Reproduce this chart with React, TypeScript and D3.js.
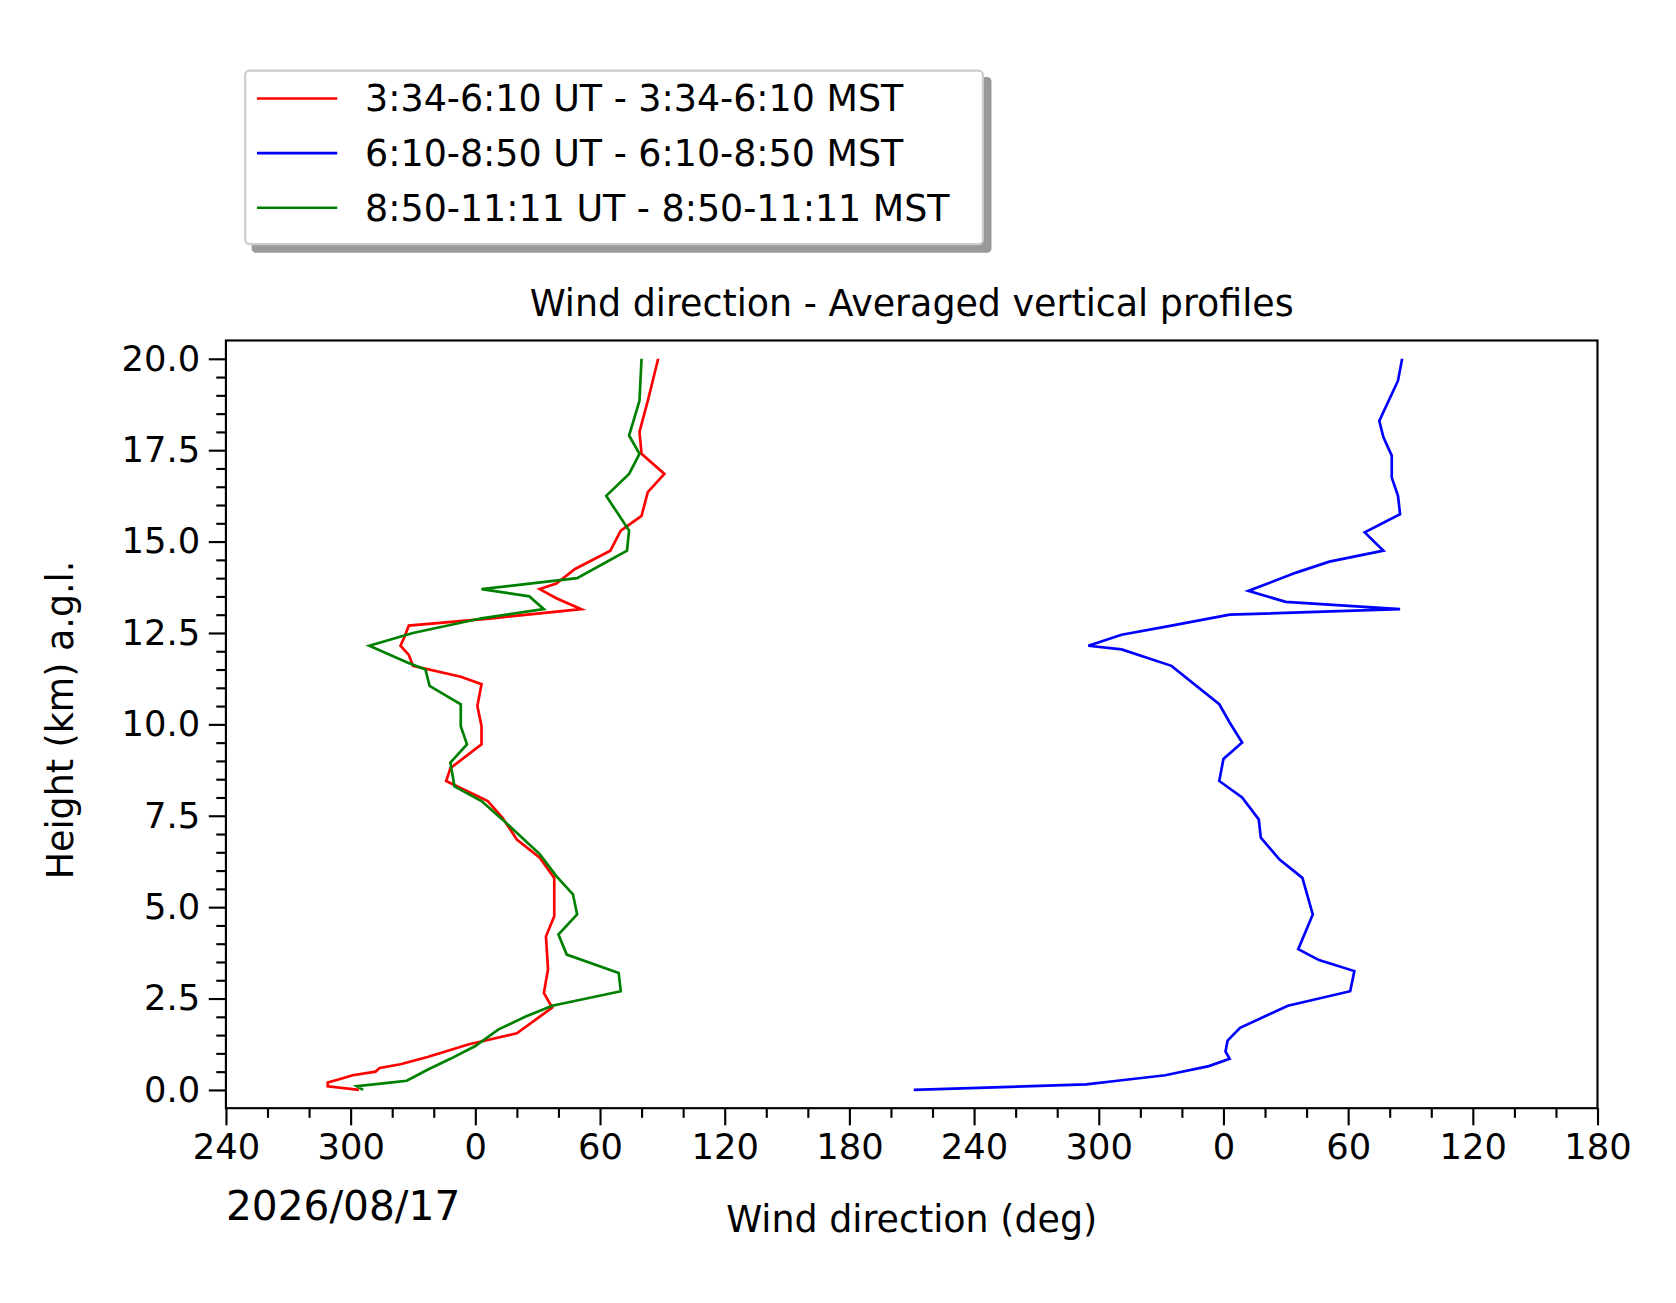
import React, { useRef, useEffect } from 'react';
import * as d3 from 'd3';

// Heights (km) and directions (deg, unwrapped onto a 240..900 axis)
const redH = [0, 0.1, 0.2, 0.3, 0.4, 0.5, 0.6, 0.7, 0.9, 1.25, 1.55, 2.25, 2.65, 3.3, 4.2, 4.75, 5.8, 6.35, 6.85, 7.45, 7.9, 8.45, 8.8, 9.45, 9.95, 10.5, 11.1, 11.3, 11.6, 11.9, 12.15, 12.4, 12.7, 12.9, 13.15, 13.45, 13.7, 13.85, 14.25, 14.75, 15.3, 15.7, 16.35, 16.85, 17.4, 18.0, 18.85, 20.0];
const redD = [304, 289, 289, 295, 301, 312, 314, 324, 337, 357, 380, 397, 393, 395, 394, 398, 398, 391, 380, 373, 366, 346, 348, 363, 363, 361, 363, 353, 330, 328, 324, 326, 328, 368, 411, 399, 391, 399, 408, 425, 430, 440, 443, 451, 440, 439, 443, 448];

const greenH = [0, 0.1, 0.2, 0.25, 0.4, 0.55, 0.85, 1.2, 1.65, 2.0, 2.3, 2.7, 3.2, 3.7, 4.25, 4.8, 5.35, 5.85, 6.45, 7.4, 7.9, 8.3, 8.95, 9.45, 9.95, 10.55, 11.05, 11.5, 11.7, 12.15, 12.5, 12.9, 13.15, 13.5, 13.7, 14.0, 14.75, 15.3, 16.25, 16.85, 17.4, 17.9, 18.85, 20.0];
const greenD = [306, 303, 319, 327, 332, 337, 348, 360, 371, 384, 397, 430, 429, 404, 400, 409, 407, 399, 391, 373, 363, 350, 348, 356, 353, 353, 338, 336, 327, 309, 330, 363, 393, 386, 363, 409, 433, 434, 423, 434, 439, 434, 439, 440];

const blueH = [0, 0.15, 0.25, 0.4, 0.65, 0.85, 1.05, 1.35, 1.7, 2.3, 2.7, 3.25, 3.55, 3.85, 4.8, 5.8, 6.3, 6.9, 7.4, 8.0, 8.45, 9.05, 9.5, 10.05, 10.55, 11.6, 12.05, 12.15, 12.45, 12.7, 13.0, 13.15, 13.35, 13.65, 14.15, 14.45, 14.75, 15.25, 15.75, 16.25, 16.75, 17.35, 17.85, 18.3, 19.4, 20.0];
const blueD = [571, 654, 669, 692, 713, 723, 721, 722, 728, 751, 781, 783, 766, 756, 763, 758, 747, 738, 737, 729, 718, 720, 729, 723, 718, 695, 671, 655, 671, 695, 723, 805, 750, 732, 755, 771, 797, 788, 805, 804, 801, 801, 797, 795, 804, 806];

const seriesNames = ['3:34-6:10 UT - 3:34-6:10 MST', '6:10-8:50 UT - 6:10-8:50 MST', '8:50-11:11 UT - 8:50-11:11 MST'];
const seriesColors = ['#ff0000', '#0000ff', '#008000'];
const xTicks = [240, 300, 360, 420, 480, 540, 600, 660, 720, 780, 840, 900];
const yTicks = [0, 2.5, 5, 7.5, 10, 12.5, 15, 17.5, 20];

export default function App() {
  const ref = useRef<SVGSVGElement | null>(null);

  useEffect(() => {
    const root = d3.select(ref.current);
    root.selectAll('*').remove();
    root.append('rect').attr('width', 1676).attr('height', 1303).attr('fill', '#fff');
    const svg = root.append('g').attr('transform', 'scale(1.0707)');
    const font = 'DejaVu Sans, sans-serif';
    const L = 211, R = 1492, T = 318, B = 1035;
    const x = d3.scaleLinear().domain([240, 900]).range([L, R]);
    const y = d3.scaleLinear().domain([-0.5, 20.5]).range([B, T]);

    // axes
    const xAx = svg.append('g').attr('transform', `translate(0,${B})`)
      .call(d3.axisBottom(x).tickValues(xTicks).tickSize(16).tickPadding(8)
        .tickFormat(d => String(((+d % 360) + 360) % 360)));
    svg.append('g').attr('transform', `translate(0,${B})`)
      .call(d3.axisBottom(x).tickValues(d3.range(240, 901, 20).filter(v => (v - 240) % 60 !== 0)).tickSize(9).tickFormat(() => ''));
    const yAx = svg.append('g').attr('transform', `translate(${L},0)`)
      .call(d3.axisLeft(y).tickValues(yTicks).tickSize(16).tickPadding(8).tickFormat(d3.format('.1f')));
    svg.append('g').attr('transform', `translate(${L},0)`)
      .call(d3.axisLeft(y).tickValues(d3.range(0, 20.01, 0.5).filter(v => v % 2.5 !== 0)).tickSize(9).tickFormat(() => ''));
    svg.selectAll('.domain').remove();
    svg.selectAll('.tick line').attr('stroke', '#000').attr('stroke-width', 2);
    [xAx, yAx].forEach(a => a.selectAll('text').attr('font-family', font).attr('font-size', 33).attr('fill', '#000'));

    svg.append('rect').attr('x', L).attr('y', T).attr('width', R - L).attr('height', B - T)
      .attr('fill', 'none').attr('stroke', '#000').attr('stroke-width', 2);

    const line = d3.line<[number, number]>().x(d => x(d[0])).y(d => y(d[1]));
    const data = [
      d3.zip(redD, redH) as [number, number][],
      d3.zip(blueD, blueH) as [number, number][],
      d3.zip(greenD, greenH) as [number, number][],
    ];
    data.forEach((pts, i) => {
      svg.append('path').attr('d', line(pts)).attr('fill', 'none')
        .attr('stroke', seriesColors[i]).attr('stroke-width', 2.5);
    });

    // labels
    svg.append('text').attr('x', (L + R) / 2).attr('y', 295).attr('text-anchor', 'middle')
      .attr('font-family', font).attr('font-size', 34).text('Wind direction - Averaged vertical profiles');
    svg.append('text').attr('x', (L + R) / 2).attr('y', 1151).attr('text-anchor', 'middle')
      .attr('font-family', font).attr('font-size', 34).text('Wind direction (deg)');
    svg.append('text').attr('transform', `translate(68,${(T + B) / 2 - 4}) rotate(-90)`).attr('text-anchor', 'middle')
      .attr('font-family', font).attr('font-size', 34).text('Height (km) a.g.l.');
    svg.append('text').attr('x', 211).attr('y', 1139)
      .attr('font-family', font).attr('font-size', 38).text('2026/08/17');

    // legend
    svg.append('rect').attr('x', 235).attr('y', 72).attr('width', 691).attr('height', 164).attr('rx', 4)
      .attr('fill', '#999');
    svg.append('rect').attr('x', 229).attr('y', 66).attr('width', 689).attr('height', 162).attr('rx', 4)
      .attr('fill', '#fff').attr('stroke', '#ccc').attr('stroke-width', 2);
    seriesNames.forEach((n, i) => {
      const yy = 92 + i * 51;
      svg.append('line').attr('x1', 240).attr('x2', 315).attr('y1', yy).attr('y2', yy)
        .attr('stroke', seriesColors[i]).attr('stroke-width', 2.5);
      svg.append('text').attr('x', 341).attr('y', yy + 12).attr('font-family', font).attr('font-size', 34).text(n);
    });
  }, []);

  return <svg ref={ref} width={1676} height={1303} style={{ position: 'absolute', left: 0, top: 0, display: 'block' }} />;
}
